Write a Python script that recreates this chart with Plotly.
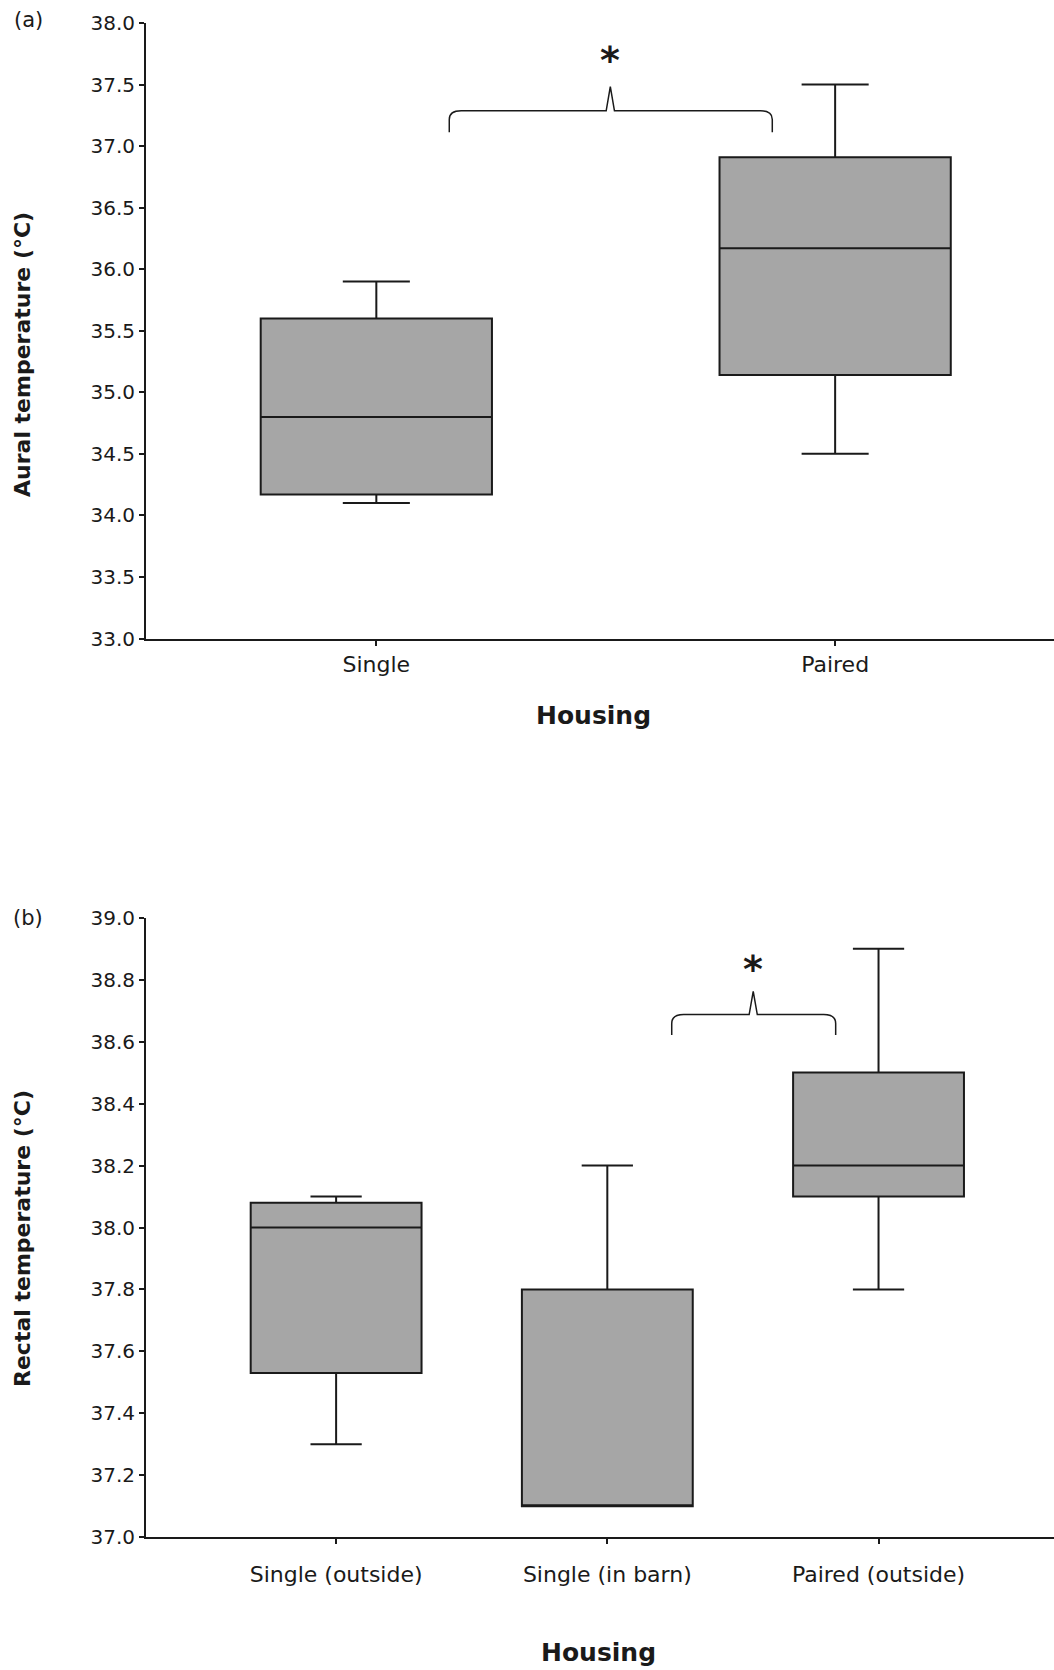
import plotly.graph_objects as go

# ---------------- data ----------------
cats_a = ["Single", "Paired"]
q1_a = [34.17, 35.14]
med_a = [34.80, 36.17]
q3_a = [35.60, 36.91]
lo_a = [34.10, 34.50]
hi_a = [35.90, 37.50]

cats_b = ["Single (outside)", "Single (in barn)", "Paired (outside)"]
q1_b = [37.53, 37.10, 38.10]
med_b = [38.00, 37.10, 38.20]
q3_b = [38.08, 37.80, 38.50]
lo_b = [37.30, 37.10, 37.80]
hi_b = [38.10, 38.20, 38.90]

yticks_a = [33.0, 33.5, 34.0, 34.5, 35.0, 35.5, 36.0, 36.5, 37.0, 37.5, 38.0]
yticklabels_a = ["33.0", "33.5", "34.0", "34.5", "35.0", "35.5", "36.0", "36.5", "37.0", "37.5", "38.0"]
yticks_b = [37.0, 37.2, 37.4, 37.6, 37.8, 38.0, 38.2, 38.4, 38.6, 38.8, 39.0]
yticklabels_b = ["37.0", "37.2", "37.4", "37.6", "37.8", "38.0", "38.2", "38.4", "38.6", "38.8", "39.0"]

# significance brace (in axis units): left, right, peak x; base, end, peak y
brace_a = dict(xl=0.159, xr=0.863, xp=0.510, yh=37.287, ye=37.113, yp=37.483, star_y=37.73)
brace_b = dict(xl=1.2375, xr=1.842, xp=1.538, yh=38.6875, ye=38.621, yp=38.762, star_y=38.846)

W, H = 1054, 1670
FILL = "#a6a6a6"
INK = "#1a1a1a"
FONT = "DejaVu Sans"

fig = go.Figure()

fig.add_trace(go.Box(
    x=list(range(len(cats_a))), q1=q1_a, median=med_a, q3=q3_a,
    lowerfence=lo_a, upperfence=hi_a, width=0.504, whiskerwidth=0.29,
    fillcolor=FILL, line=dict(color=INK, width=2), boxpoints=False,
    showlegend=False, hoverinfo="skip", xaxis="x", yaxis="y"))

fig.add_trace(go.Box(
    x=list(range(len(cats_b))), q1=q1_b, median=med_b, q3=q3_b,
    lowerfence=lo_b, upperfence=hi_b, width=0.63, whiskerwidth=0.30,
    fillcolor=FILL, line=dict(color=INK, width=2), boxpoints=False,
    showlegend=False, hoverinfo="skip", xaxis="x2", yaxis="y2"))


def brace_path(b, rx, ry, hw):
    xl, xr, xp, yh, ye, yp = b["xl"], b["xr"], b["xp"], b["yh"], b["ye"], b["yp"]
    return (f"M {xl},{ye} L {xl},{yh - ry} Q {xl},{yh} {xl + rx},{yh} "
            f"L {xp - hw},{yh} L {xp},{yp} L {xp + hw},{yh} "
            f"L {xr - rx},{yh} Q {xr},{yh} {xr},{yh - ry} L {xr},{ye}")


shapes = [
    dict(type="path", xref="x", yref="y", path=brace_path(brace_a, 0.026, 0.07, 0.009),
         line=dict(color=INK, width=1.5)),
    dict(type="path", xref="x2", yref="y2", path=brace_path(brace_b, 0.044, 0.029, 0.015),
         line=dict(color=INK, width=1.5)),
]

x_dom = [146 / W, 1.0]
ya_dom = [1 - 638.5 / H, 1 - 23 / H]
yb_dom = [1 - 1537.3 / H, 1 - 917.7 / H]

axis_common = dict(showline=True, linecolor=INK, linewidth=2, ticks="outside",
                   tickcolor=INK, tickwidth=1.5, ticklen=5, showgrid=False,
                   zeroline=False, fixedrange=True, automargin=False)


def ann(text, x, y, size, bold=False, angle=0, xref="paper", yref="paper", yshift=0):
    return dict(text=f"<b>{text}</b>" if bold else text, x=x, y=y, xref=xref, yref=yref,
                xanchor="center", yanchor="middle", textangle=angle, yshift=yshift,
                showarrow=False, font=dict(family=FONT, size=size, color=INK))


annotations = [
    ann("(a)", 28 / W, 1 - 20 / H, 21),
    ann("(b)", 28 / W, 1 - 918 / H, 21),
    ann("Aural temperature (°C)", 23 / W, 1 - 355 / H, 22, bold=True, angle=-90),
    ann("Rectal temperature (°C)", 22 / W, 1 - 1239 / H, 22, bold=True, angle=-90),
    ann("Housing", 593 / W, 1 - 715 / H, 25, bold=True),
    ann("Housing", 598 / W, 1 - 1652 / H, 25, bold=True),
    ann("*", brace_a["xp"], brace_a["star_y"], 38, bold=True, xref="x", yref="y", yshift=-4),
    ann("*", brace_b["xp"], brace_b["star_y"], 38, bold=True, xref="x2", yref="y2", yshift=-4),
]

fig.update_layout(
    width=W, height=H, autosize=False,
    margin=dict(l=0, r=0, t=0, b=0, pad=0),
    paper_bgcolor="white", plot_bgcolor="white",
    showlegend=False,
    xaxis=dict(domain=x_dom, anchor="y", range=[-0.502, 1.477],
               tickvals=list(range(len(cats_a))), ticktext=cats_a,
               tickfont=dict(family=FONT, size=22, color=INK), **axis_common),
    yaxis=dict(domain=ya_dom, anchor="x", range=[33, 38],
               tickvals=yticks_a, ticktext=yticklabels_a,
               tickfont=dict(family=FONT, size=20, color=INK), **axis_common),
    xaxis2=dict(domain=x_dom, anchor="y2", range=[-0.701, 2.647],
                tickvals=list(range(len(cats_b))), ticktext=cats_b, ticklabelstandoff=11,
                tickfont=dict(family=FONT, size=22, color=INK), **axis_common),
    yaxis2=dict(domain=yb_dom, anchor="x2", range=[37, 39],
                tickvals=yticks_b, ticktext=yticklabels_b,
                tickfont=dict(family=FONT, size=20, color=INK), **axis_common),
    shapes=shapes,
    annotations=annotations,
)

fig.write_html("out.html", config={"displayModeBar": False},
               post_script="document.body.style.margin='0';document.body.style.overflow='hidden';")
